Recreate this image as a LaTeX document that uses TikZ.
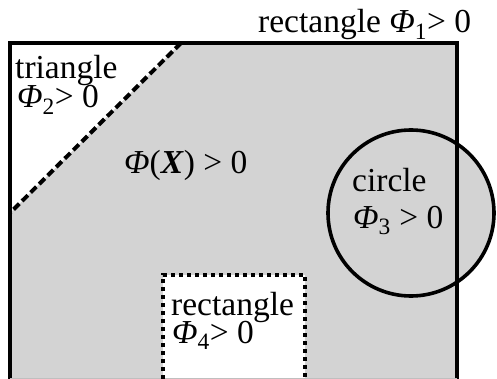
\documentclass[tikz,border=0pt]{standalone}
\usepackage{fontspec}
\setmainfont{Liberation Serif}
\definecolor{regiongray}{RGB}{211,211,211}
\tikzset{
  lbl/.style={anchor=base west, inner sep=0pt, font=\fontsize{33.5}{38}\selectfont},
  boundary/.style={line width=4pt},
  tridash/.style={line width=4pt, dash pattern=on 8pt off 4pt},
  rectdot/.style={line width=4pt, dash pattern=on 4pt off 4pt}
}
\newcommand{\Ph}{\textit{Φ}}
\begin{document}
\begin{tikzpicture}[x=1pt,y=-1pt]
\useasboundingbox (0,0) rectangle (497,379);
% fills
\fill[regiongray] (10,43) rectangle (457,379);
\fill[regiongray] (411,213) circle (84);
\fill[white] (10,43) -- (181,43) -- (10,213) -- cycle;
\fill[white] (163,275) rectangle (305,379);
% outer rectangle (open at the bottom)
\draw[boundary] (10,379) -- (10,43) -- (457,43) -- (457,379);
\draw[line width=1pt, black!25] (10,378.5) -- (457,378.5);
% circle
\draw[line width=3.6pt] (411,213) circle (83);
% triangle edge
\draw[tridash] (181,43) -- (10,213);
% inner dotted rectangle
\draw[rectdot] (163,379) -- (163,275) -- (305,275) -- (305,379);
% labels
\node[lbl] (r1) at (258,33) {rectangle \Ph\textsubscript{1}> 0};
\node[lbl] (t1) at (15,79) {triangle};
\node[lbl] (t2) at (17,108) {\Ph\textsubscript{2}> 0};
\node[lbl] (phx) at (124,174) {\Ph(\textbf{\textit{X}}) > 0};
\node[lbl] (c1) at (352,192) {circle};
\node[lbl] (c2) at (353,228) {\Ph\textsubscript{3} > 0};
\node[lbl] (r4a) at (171,315) {rectangle};
\node[lbl] (r4b) at (172,343) {\Ph\textsubscript{4}> 0};
\end{tikzpicture}
\end{document}
